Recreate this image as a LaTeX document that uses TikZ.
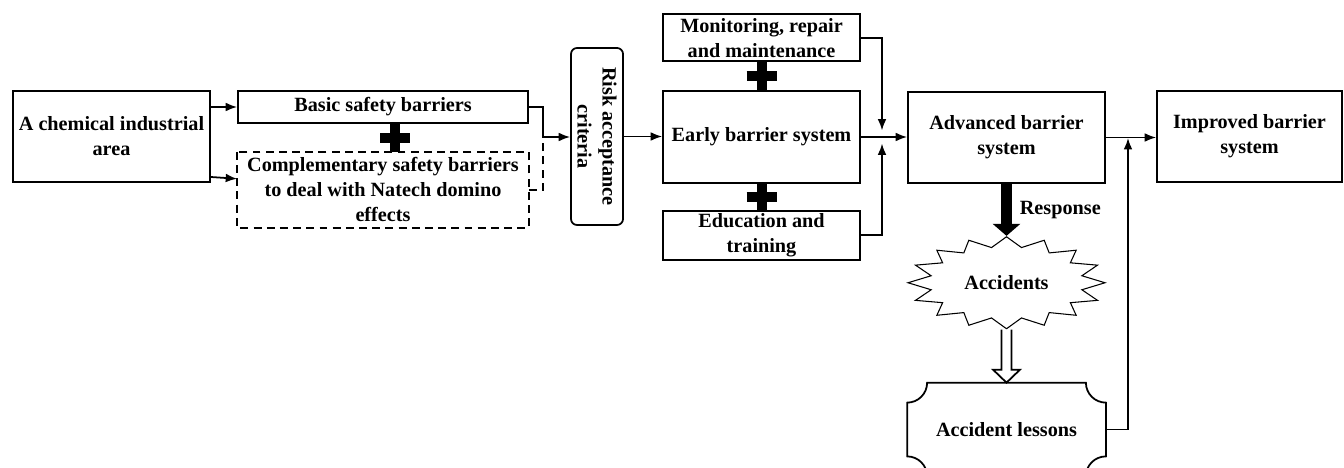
\documentclass[tikz,border=0pt]{standalone}
\usepackage{fontspec}
\setmainfont{Liberation Serif}
\usetikzlibrary{arrows.meta,calc,positioning}

\begin{document}
\begin{tikzpicture}[font=\fontsize{11.5}{14.2}\selectfont\bfseries,line width=1pt,>={Latex[length=6.5pt,width=5pt]},
  box/.style={draw,rectangle,inner sep=0pt,align=center,minimum width=3.94cm},
  plusbar/.style={line width=0.2cm},
  dashbox/.style={dash pattern=on 4.5pt off 3pt}]
  \path[use as bounding box,clip] (0,0) rectangle (26.88,-9.36);
  % left part
  \node[box,minimum height=1.82cm] at (2.23,-2.73)(area){A chemical industrial\\area};
  \node[box,minimum width=5.8cm,minimum height=0.64cm] at (7.66,-2.14)(basic){Basic safety barriers};
  \node[box,draw=none,minimum width=5.8cm,minimum height=1.48cm,below=0.56cm of basic](comp){Complementary safety barriers\\to deal with Natech domino\\effects};
  \draw[dashbox] (comp.north west) rectangle (comp.south east);
  \node[draw,rectangle,rounded corners=0.12cm,rotate=-90,minimum width=3.54cm,minimum height=1.04cm,inner sep=0pt,align=center] at (11.94,-2.73)(risk){Risk acceptance\\criteria};
  \coordinate (j1) at (10.86,-2.74);
  % middle part
  \node[box,minimum height=1.84cm] at (15.23,-2.74)(early){Early barrier system};
  \node[box,minimum height=0.94cm,above=0.56cm of early](mon){Monitoring, repair\\and maintenance};
  \node[box,minimum height=0.98cm,below=0.52cm of early](edu){Education and\\training};
  \coordinate (j2) at (17.64,-2.74);
  % right part
  \node[box,minimum height=1.82cm] at (20.13,-2.75)(adv){Advanced barrier\\system};
  \node[box,minimum width=3.7cm,minimum height=1.82cm] at (24.99,-2.73)(imp){Improved barrier\\system};
  \node[rectangle,inner sep=0pt,minimum width=3.94cm,minimum height=1.84cm,below=1.04cm of adv](acc){Accidents};
  \node[rectangle,inner sep=0pt,minimum width=3.94cm,minimum height=1.84cm,below=1.06cm of acc](les){Accident lessons};
  \coordinate (j3) at (22.56,-2.76);
  \draw[line width=0.6pt,shift={(acc.center)}] plot[domain=0:31,samples=32,variable=\i]
    ({(1-0.22*mod(round(\i),2))*1.97*cos(\i*11.25+90)},{(1-0.22*mod(round(\i),2))*0.92*sin(\i*11.25+90)}) -- cycle;
  \draw ([xshift=0.4cm]les.north west) -- ([xshift=-0.4cm]les.north east) arc[start angle=180,end angle=270,radius=0.4cm]
    -- ([yshift=0.4cm]les.south east) arc[start angle=90,end angle=180,radius=0.4cm]
    -- ([xshift=0.4cm]les.south west) arc[start angle=0,end angle=90,radius=0.4cm]
    -- ([yshift=-0.4cm]les.north west) arc[start angle=270,end angle=360,radius=0.4cm] -- cycle;
  % plus signs
  \draw[plusbar] ([xshift=0.24cm]basic.south) -- ([xshift=0.24cm]comp.north);
  \draw[plusbar] ($([xshift=0.24cm]basic.south)!0.5!([xshift=0.24cm]comp.north)$) +(-0.3,0) -- +(0.3,0);
  \draw[plusbar] (mon.south) -- (early.north);
  \draw[plusbar] ($(mon.south)!0.5!(early.north)$) +(-0.3,0) -- +(0.3,0);
  \draw[plusbar] (early.south) -- (edu.north);
  \draw[plusbar] ($(early.south)!0.5!(edu.north)$) +(-0.3,0) -- +(0.3,0);
  % connectors
  \draw[->] (area.east |- basic.west) -- (basic.west);
  \draw[->] ([yshift=-0.81cm]area.east) -- ([yshift=0.22cm]comp.west);
  \draw (basic.east) -| (j1);
  \draw[dashbox] (comp.east) -| (j1);
  \draw[->] (j1) -- (j1 -| risk.south);
  \draw[->] (risk.north) -- (risk.north -| early.west);
  \draw[->] (early.east) -- (early.east -| adv.west);
  \draw[->] (mon.east) -| ([yshift=0.13cm]j2);
  \draw[->] (edu.east) -| ([yshift=-0.13cm]j2);
  \draw[->] (adv.east) -- (adv.east -| imp.west);
  \draw[->] (les.east) -| (j3);
  \draw[line width=0.22cm,-{Triangle[length=0.24cm,width=0.54cm]}] (adv.south) -- (acc.north);
  \node[anchor=west,inner sep=0pt] at ($(adv.south)!0.5!(acc.north)+(0.25,0)$)(resp){Response};
  \draw[fill=white] ([xshift=-0.1cm]acc.south) -- ($(les.north)+(-0.1,0.26)$) -- ($(les.north)+(-0.27,0.26)$) -- (les.north)
    -- ($(les.north)+(0.27,0.26)$) -- ($(les.north)+(0.1,0.26)$) -- ([xshift=0.1cm]acc.south);
\end{tikzpicture}
\end{document}
